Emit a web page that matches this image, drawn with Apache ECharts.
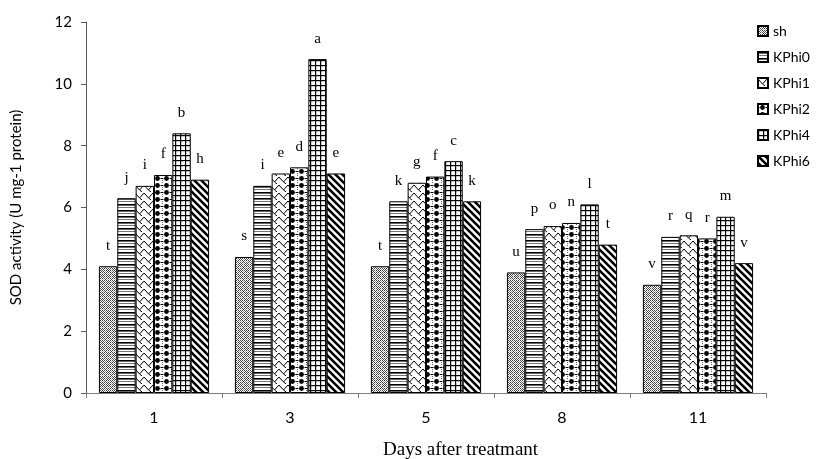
<!DOCTYPE html>
<html>
<head>
<meta charset="utf-8">
<script src="https://cdn.jsdelivr.net/npm/echarts@6/dist/echarts.min.js"></script>
<style>
  html, body { margin: 0; padding: 0; background: #fff; }
  #chart { width: 818px; height: 459px; }
</style>
</head>
<body>
<div id="chart"></div>
<script>
// Sampling days
const days = ['1', '3', '5', '8', '11'];
const seriesNames = ['sh', 'KPhi0', 'KPhi1', 'KPhi2', 'KPhi4', 'KPhi6'];

// SOD activity (U mg-1 protein) per treatment
const sh    = [4.1, 4.4, 4.1, 3.9, 3.5];
const kphi0 = [6.3, 6.7, 6.2, 5.3, 5.05];
const kphi1 = [6.7, 7.1, 6.8, 5.4, 5.1];
const kphi2 = [7.05, 7.3, 7.0, 5.5, 5.0];
const kphi4 = [8.4, 10.8, 7.5, 6.1, 5.7];
const kphi6 = [6.9, 7.1, 6.2, 4.8, 4.2];

// Significance letters
const shLetters    = ['t', 's', 't', 'u', 'v'];
const kphi0Letters = ['j', 'i', 'k', 'p', 'r'];
const kphi1Letters = ['i', 'e', 'g', 'o', 'q'];
const kphi2Letters = ['f', 'd', 'f', 'n', 'r'];
const kphi4Letters = ['b', 'a', 'c', 'l', 'm'];
const kphi6Letters = ['h', 'e', 'k', 't', 'v'];

const yTicks = [0, 2, 4, 6, 8, 10, 12];

// ---- hatch fills drawn on small canvases ----
function tile(w, h, draw) {
  const c = document.createElement('canvas');
  c.width = w; c.height = h;
  const ctx = c.getContext('2d');
  ctx.fillStyle = '#fff';
  ctx.fillRect(0, 0, w, h);
  ctx.strokeStyle = '#000';
  ctx.fillStyle = '#000';
  draw(ctx, w, h);
  return { image: c, repeat: 'repeat' };
}

const patterns = [
  // sh: fine speckled mesh
  tile(6, 6, (ctx) => {
    ctx.fillStyle = '#444';
    const dots = [[0,0],[2,0],[4,0],[1,1],[5,1],[0,2],[2,2],[4,2],[3,3],[0,4],[2,4],[4,4],[1,5],[5,5]];
    dots.forEach(([x, y]) => ctx.fillRect(x, y, 1, 1));
    ctx.fillStyle = '#aaa';
    [[3,1],[1,3],[5,3],[3,5]].forEach(([x, y]) => ctx.fillRect(x, y, 1, 1));
  }),
  // KPhi0: horizontal lines
  tile(4, 6, (ctx, w) => {
    ctx.fillRect(0, 0, w, 1.6);
    ctx.fillStyle = '#777';
    ctx.fillRect(0, 3, w, 1);
  }),
  // KPhi1: zigzag
  tile(9, 8, (ctx) => {
    ctx.lineWidth = 1;
    ctx.beginPath();
    ctx.moveTo(0, 1); ctx.lineTo(4.5, 6); ctx.lineTo(9, 1);
    ctx.stroke();
    ctx.beginPath();
    ctx.moveTo(4.5, 6); ctx.lineTo(7, 8);
    ctx.stroke();
  }),
  // KPhi2: black dots with dotted links
  tile(9, 7, (ctx) => {
    ctx.beginPath();
    ctx.arc(4.5, 3.5, 2.4, 0, Math.PI * 2);
    ctx.fill();
    ctx.fillRect(0, 3, 1.5, 1);
    ctx.fillRect(7.5, 3, 1.5, 1);
    ctx.fillStyle = '#666';
    ctx.fillRect(0, 0, 1, 1);
    ctx.fillRect(0, 5, 1, 1);
  }),
  // KPhi4: square grid
  tile(5, 5, (ctx, w, h) => {
    ctx.fillRect(0, 0, w, 1.2);
    ctx.fillRect(0, 0, 1.2, h);
  }),
  // KPhi6: thick diagonal stripes
  tile(7, 7, (ctx, w, h) => {
    ctx.lineWidth = 2.6;
    ctx.beginPath();
    ctx.moveTo(-1, -1); ctx.lineTo(w + 1, h + 1);
    ctx.moveTo(-1 - w, -1); ctx.lineTo(1, h + 1);
    ctx.moveTo(w - 1, -1); ctx.lineTo(2 * w + 1, h + 1);
    ctx.stroke();
  })
];

const values = [sh, kphi0, kphi1, kphi2, kphi4, kphi6];
const letters = [shLetters, kphi0Letters, kphi1Letters, kphi2Letters, kphi4Letters, kphi6Letters];

const chart = echarts.init(document.getElementById('chart'), null, { renderer: 'canvas' });

chart.setOption({
  animation: false,
  backgroundColor: '#fff',
  grid: { left: 86, right: 52, top: 22, bottom: 66, containLabel: false, outerBoundsMode: 'none' },
  // x-axis caption, placed as a title below the axis
  title: {
    text: 'Days after treatmant',
    left: 383,
    top: 441,
    padding: 0,
    textStyle: { fontFamily: 'Liberation Serif', fontSize: 19, fontWeight: 'normal', color: '#000' }
  },
  legend: {
    orient: 'vertical',
    left: 752,
    top: 19,
    itemWidth: 10,
    itemHeight: 10,
    itemGap: 12,
    icon: 'rect',
    data: seriesNames,
    textStyle: { fontFamily: 'Lato', fontSize: 14, color: '#000', padding: [0, 0, 0, 0] }
  },
  xAxis: {
    type: 'category',
    data: days,
    axisLine: { lineStyle: { color: '#7f7f7f', width: 1 } },
    axisTick: { show: true, length: 5, lineStyle: { color: '#7f7f7f' } },
    axisLabel: { fontFamily: 'Lato', fontSize: 16, color: '#000', margin: 17 }
  },
  yAxis: {
    type: 'value',
    min: yTicks[0],
    max: yTicks[yTicks.length - 1],
    interval: 2,
    name: 'SOD activity (U mg-1 protein)',
    nameLocation: 'middle',
    nameGap: 62,
    nameTextStyle: { fontFamily: 'Lato', fontSize: 15, color: '#000' },
    splitLine: { show: false },
    axisLine: { show: true, lineStyle: { color: '#595959', width: 1 } },
    axisTick: { show: true, length: 5, lineStyle: { color: '#595959' } },
    axisLabel: { fontFamily: 'Lato', fontSize: 15, color: '#000', margin: 14 }
  },
  series: seriesNames.map((name, i) => ({
    name: name,
    type: 'bar',
    data: values[i],
    barGap: '0%',
    barCategoryGap: '19%',
    itemStyle: {
      color: patterns[i],
      borderColor: '#000',
      borderWidth: 1
    },
    label: {
      show: true,
      position: 'top',
      distance: 13,
      fontFamily: 'Liberation Serif',
      fontSize: 15,
      color: '#000',
      formatter: (p) => letters[i][p.dataIndex]
    }
  }))
});
</script>
</body>
</html>
